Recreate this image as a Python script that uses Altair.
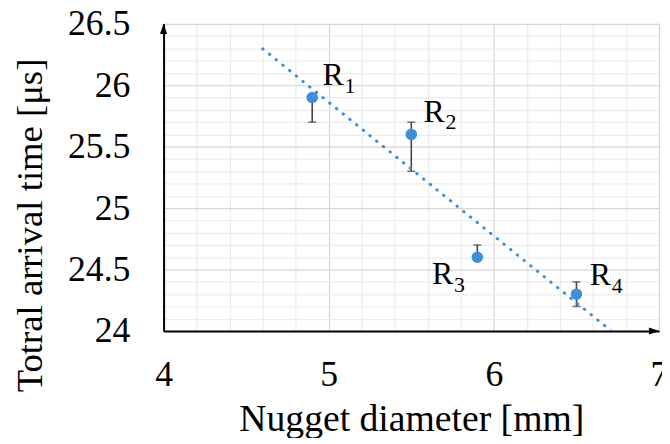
import altair as alt
import pandas as pd

# ---- data ----
diameter = [4.9, 5.5, 5.9, 6.5]          # mm
arrival = [25.9, 25.6, 24.6, 24.3]       # us
err_low = [25.7, 25.3, 24.6, 24.2]
err_high = [25.9, 25.7, 24.7, 24.4]
label_main = ["R", "R", "R", "R"]
label_sub = ["1", "2", "3", "4"]

x_ticks = [round(4.0 + 0.2 * i, 1) for i in range(16)]
y_ticks = [round(24.0 + 0.1 * i, 1) for i in range(26)]
trend_extent = [4.6, 6.711]
arrow_x = [4.0, 7.0]
arrow_y = [26.5, 24.0]
arrow_dir = ["up", "right"]

df = pd.DataFrame({
    "x": diameter, "y": arrival, "lo": err_low, "hi": err_high,
    "R": label_main, "sub": label_sub,
})
arrows = pd.DataFrame({"x": arrow_x, "y": arrow_y, "dir": arrow_dir})

# ---- styles ----
BLUE = "#3F8EDB"
ERR = "#454545"
SERIF = "Liberation Serif"
label_pos = {  # (dx, dy) of the "R" glyph from the point, pixels
    "1": (21, -13),
    "2": (23, -13),
    "3": (-35, 27),
    "4": (24, -9),
}

xs = alt.Scale(domain=[4, 7], nice=False, zero=False)
ys = alt.Scale(domain=[24, 26.5], nice=False, zero=False)

x_axis = alt.Axis(
    values=x_ticks, tickCount=100,
    grid=True,
    gridColor={"condition": {"test": "abs(datum.value - round(datum.value)) < 0.001", "value": "#D6D6D6"}, "value": "#ECECEC"},
    gridWidth=1.2,
    ticks=False,
    domain=True, domainColor="#000000", domainWidth=2,
    labelExpr="abs(datum.value - round(datum.value)) < 0.001 ? format(datum.value, '~g') : ''",
    labelFont=SERIF, labelFontSize=36, labelColor="#000000",
    labelBaseline="alphabetic", labelPadding=55,
    labelOverlap=False, labelFlush=False, labelBound=False,
    title="Nugget diameter [mm]",
    titleFont=SERIF, titleFontSize=38, titleFontWeight="normal", titleColor="#000000",
    titleBaseline="alphabetic", titleY=100,
)
y_axis = alt.Axis(
    values=y_ticks, tickCount=100,
    grid=True,
    gridColor={"condition": {"test": "abs(datum.value * 2 - round(datum.value * 2)) < 0.001", "value": "#D6D6D6"}, "value": "#ECECEC"},
    gridWidth=1.2,
    ticks=False,
    domain=True, domainColor="#000000", domainWidth=2,
    labelExpr="abs(datum.value * 2 - round(datum.value * 2)) < 0.001 ? format(datum.value, '~g') : ''",
    labelFont=SERIF, labelFontSize=36, labelColor="#000000",
    labelPadding=34, labelOverlap=False, labelFlush=False, labelBound=False,
    title="Totral arrival time [μs]",
    titleFont=SERIF, titleFontSize=37, titleFontWeight="normal", titleColor="#000000",
    titleBaseline="alphabetic", titleX=-123, titleY=203, titleAngle=-90,
)

base = alt.Chart(df)

bars = base.mark_rule(color=ERR, strokeWidth=1.6).encode(
    x=alt.X("x:Q", scale=xs, axis=x_axis),
    y=alt.Y("lo:Q", scale=ys, axis=y_axis),
    y2="hi:Q",
)
caps_lo = base.mark_tick(orient="horizontal", size=8, thickness=1.6, color=ERR).encode(
    x="x:Q", y="lo:Q"
)
caps_hi = base.mark_tick(orient="horizontal", size=8, thickness=1.6, color=ERR).encode(
    x="x:Q", y="hi:Q"
)

trend = base.transform_regression("x", "y", extent=trend_extent).mark_line(
    color=BLUE, strokeWidth=3, strokeDash=[0.5, 8.2], strokeCap="round", clip=True
).encode(x="x:Q", y="y:Q")

points = base.mark_point(filled=True, size=135, color=BLUE, opacity=1, shape="circle").encode(
    x="x:Q", y="y:Q"
)

layers = [bars, caps_lo, caps_hi, trend, points]

for s, (dx, dy) in label_pos.items():
    sel = base.transform_filter(alt.datum.sub == s)
    layers.append(
        sel.mark_text(font=SERIF, fontSize=32, color="#000000", align="center",
                      baseline="alphabetic", dx=dx, dy=dy).encode(
            x="x:Q", y="y:Q", text="R:N")
    )
    layers.append(
        sel.mark_text(font=SERIF, fontSize=22, color="#000000", align="center",
                      baseline="alphabetic", dx=dx + 17, dy=dy + 8).encode(
            x="x:Q", y="y:Q", text="sub:N")
    )

arrow_up = alt.Chart(arrows).transform_filter(alt.datum.dir == "up").mark_point(
    shape="M0,0L-0.6,1.7L0.6,1.7Z", size=144, filled=True, color="#000000", opacity=1
).encode(x="x:Q", y="y:Q")
arrow_right = alt.Chart(arrows).transform_filter(alt.datum.dir == "right").mark_point(
    shape="M0,0L-1.7,-0.6L-1.7,0.6Z", size=144, filled=True, color="#000000", opacity=1
).encode(x="x:Q", y="y:Q")
layers += [arrow_up, arrow_right]

chart = alt.layer(*layers).properties(
    width=500, height=310,
    autosize=alt.AutoSizeParams(type="none"),
    padding={"left": 157, "top": 14, "right": 3, "bottom": 106},
).configure_view(stroke=None).configure(background="white")

chart.save("out.html", embed_options={"renderer": "svg", "actions": False})
